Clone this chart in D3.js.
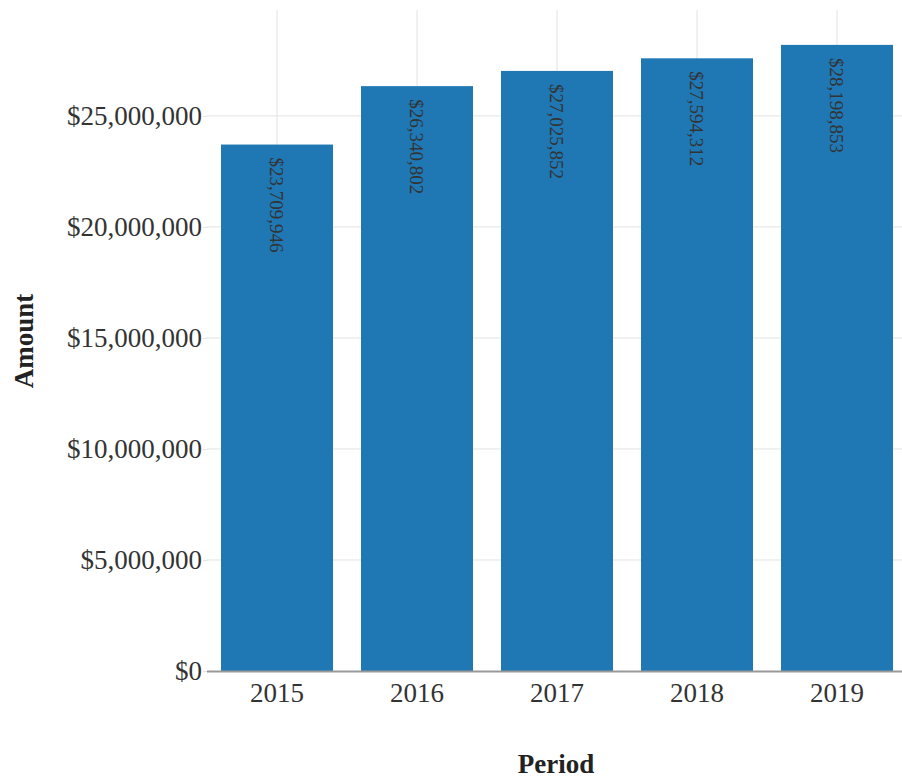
<!DOCTYPE html>
<html>
<head>
<meta charset="utf-8">
<script src="https://cdn.jsdelivr.net/npm/d3@7"></script>
<style>
  body { margin: 0; background: #fff; }
  text { font-family: "Liberation Serif", "Times New Roman", serif; }
</style>
</head>
<body>
<svg id="chart" width="902" height="778"></svg>
<script>
// data
const periods = ['2015', '2016', '2017', '2018', '2019']
const amounts = [23709946, 26340802, 27025852, 27594312, 28198853]
const yTicks = [0, 5000000, 10000000, 15000000, 20000000, 25000000]
const yMax = 29770000

const svg = d3.select('#chart')
const plotLeft = 207, plotRight = 907, plotTop = 10, plotBottom = 671

const x = d3.scaleBand()
    .domain(periods)
    .range([plotLeft, plotRight])
    .paddingInner(0.2)
    .paddingOuter(0.1)

const y = d3.scaleLinear()
    .domain([0, yMax])
    .range([plotBottom, plotTop])

const money = d => '$' + d3.format(',')(d)

// grid
svg.append('g')
    .selectAll('line')
    .data(yTicks.slice(1))
    .enter().append('line')
    .attr('x1', plotLeft).attr('x2', 902)
    .attr('y1', d => y(d)).attr('y2', d => y(d))
    .attr('stroke', '#e2e2e2').attr('stroke-width', 1)

svg.append('g')
    .selectAll('line')
    .data(periods)
    .enter().append('line')
    .attr('x1', d => x(d) + x.bandwidth() / 2)
    .attr('x2', d => x(d) + x.bandwidth() / 2)
    .attr('y1', plotTop).attr('y2', plotBottom)
    .attr('stroke', '#e2e2e2').attr('stroke-width', 1)

// bars
svg.append('g')
    .selectAll('rect')
    .data(amounts)
    .enter().append('rect')
    .attr('x', (d, i) => x(periods[i]))
    .attr('width', x.bandwidth())
    .attr('y', d => y(d))
    .attr('height', d => plotBottom - y(d))
    .attr('fill', '#1f77b4')

// bar labels
svg.append('g')
    .selectAll('text')
    .data(amounts)
    .enter().append('text')
    .attr('transform', (d, i) =>
        `translate(${x(periods[i]) + x.bandwidth() / 2},${y(d) + 13}) rotate(90)`)
    .attr('dy', '0.35em')
    .attr('font-size', 19)
    .attr('fill', '#333')
    .text(money)

// y axis
const yAxis = d3.axisLeft(y)
    .tickValues(yTicks)
    .tickFormat(money)
    .tickSize(4)
    .tickPadding(1)

svg.append('g')
    .attr('transform', `translate(${plotLeft},0)`)
    .call(yAxis)
    .call(g => g.select('.domain').remove())
    .call(g => g.selectAll('line').attr('stroke', '#e2e2e2'))
    .call(g => g.selectAll('text')
        .attr('font-size', 27)
        .attr('font-family', '"Liberation Serif", serif')
        .attr('fill', '#333'))

// x axis
const xAxis = d3.axisBottom(x).tickSize(0).tickPadding(12)

svg.append('g')
    .attr('transform', `translate(0,${plotBottom})`)
    .call(xAxis)
    .call(g => g.select('.domain')
        .attr('d', `M${plotLeft},0.5H902`)
        .attr('stroke', '#999').attr('stroke-width', 2))
    .call(g => g.selectAll('text')
        .attr('font-size', 27)
        .attr('font-family', '"Liberation Serif", serif')
        .attr('fill', '#333'))

// axis titles
svg.append('text')
    .attr('x', 556).attr('y', 773)
    .attr('text-anchor', 'middle')
    .attr('font-size', 27).attr('font-weight', 'bold')
    .attr('fill', '#222')
    .text('Period')

svg.append('text')
    .attr('transform', 'translate(33,341) rotate(-90)')
    .attr('text-anchor', 'middle')
    .attr('font-size', 27).attr('font-weight', 'bold')
    .attr('fill', '#222')
    .text('Amount')
</script>
</body>
</html>
